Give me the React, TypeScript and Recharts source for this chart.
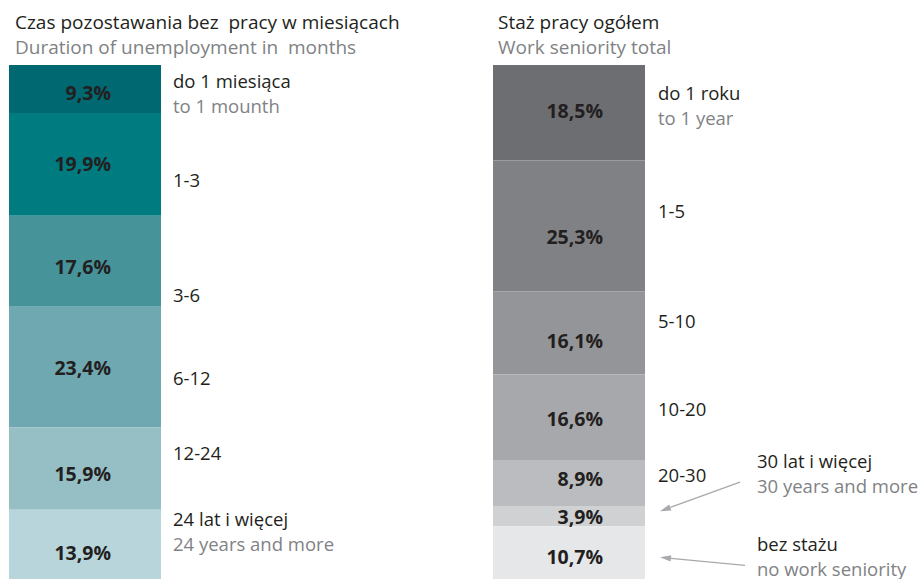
import React from 'react';
import { BarChart, Bar, XAxis, YAxis, LabelList } from 'recharts';

// ---------- data ----------
const durationLabelsPl = ['do 1 miesiąca', '1-3', '3-6', '6-12', '12-24', '24 lat i więcej'];
const durationLabelsEn = ['to 1 mounth', '', '', '', '', '24 years and more'];
const durationShares = [9.3, 19.9, 17.6, 23.4, 15.9, 13.9];

const seniorityLabelsPl = ['do 1 roku', '1-5', '5-10', '10-20', '20-30', '30 lat i więcej', 'bez stażu'];
const seniorityLabelsEn = ['to 1 year', '', '', '', '', '30 years and more', 'no work seniority'];
const seniorityShares = [18.5, 25.3, 16.1, 16.6, 8.9, 3.9, 10.7];

const durationTitlePl = 'Czas pozostawania bez  pracy w miesiącach';
const durationTitleEn = 'Duration of unemployment in  months';
const seniorityTitlePl = 'Staż pracy ogółem';
const seniorityTitleEn = 'Work seniority total';

// ---------- styles ----------
const FONT = '"Open Sans", "Noto Sans", sans-serif';
const DARK = '#231f20';
const GREY = '#808285';
const ARROW = '#a7a9ac';

const durationColors = ['#006870', '#007b80', '#46939a', '#6fa8b0', '#96bfc5', '#b7d5da'];
const seniorityColors = ['#6d6e71', '#808184', '#949598', '#a7a8ab', '#bbbcbf', '#d0d1d3', '#e6e7e8'];

const W = 921;
const H = 579;
const CHART_H = 590;
const PLOT_TOP = 65;
const PLOT_BOTTOM = 581.5;
const BAR_W = 152;

const leftStyle = {
  barLeft: 9,
  valueInset: 50,
  valueNudge: [11, 6.5, 13, 7.5, 12, 14],
  labelNudge: [-1, 22.5, 41, 17.5, -9, -20],
  labelGap: 12,
  callouts: {} as Record<number, any>,
};

const rightStyle = {
  barLeft: 493,
  valueInset: 42,
  valueNudge: [5.5, 18, 15.5, 9, 3, 7.7, 10.5],
  labelNudge: [-12.5, -8, -4.5, -1, -1.5, -48, -2.5],
  labelGap: 13,
  callouts: {
    5: { labelDx: 112, fromDx: 95, fromDy: -34, tipDx: 15, tipDy: -5 },
    6: { labelDx: 112, fromDx: 100, fromDy: 11.5, tipDx: 15, tipDy: 3.5 },
  } as Record<number, any>,
};

const fmt = (v: number) => v.toFixed(1).replace('.', ',') + '%';

function Arrow({ x1, y1, x2, y2 }: { x1: number; y1: number; x2: number; y2: number }) {
  const dx = x2 - x1;
  const dy = y2 - y1;
  const len = Math.sqrt(dx * dx + dy * dy);
  const ux = dx / len;
  const uy = dy / len;
  const hl = 11;
  const hw = 3.2;
  const bx = x2 - ux * hl;
  const by = y2 - uy * hl;
  const pts = `${x2},${y2} ${bx - uy * hw},${by + ux * hw} ${bx + uy * hw},${by - ux * hw}`;
  return (
    <g>
      <line x1={x1} y1={y1} x2={bx} y2={by} stroke={ARROW} strokeWidth={1.3} />
      <polygon points={pts} fill={ARROW} />
    </g>
  );
}

function makeSegmentLabel(i: number, labelsPl: string[], labelsEn: string[], style: any) {
  return (props: any) => {
    const vb = props.viewBox || {};
    const x = props.x ?? vb.x;
    const y = props.y ?? vb.y;
    const width = props.width ?? vb.width;
    const height = props.height ?? vb.height;
    const value = props.value;
    const right = Math.max(x, x + width);
    const cy = y + height / 2;
    const callout = style.callouts[i];
    const labelX = callout ? right + callout.labelDx : right + style.labelGap;
    const labelY = cy + style.labelNudge[i];
    return (
      <g>
        <text
          x={right - style.valueInset}
          y={cy + style.valueNudge[i]}
          textAnchor="end"
          fontFamily={FONT}
          fontWeight={700}
          fontSize={19.5}
          fill={DARK}
        >
          {fmt(Number(value))}
        </text>
        <text x={labelX} y={labelY} fontFamily={FONT} fontSize={18.5} fill={DARK}>
          {labelsPl[i]}
        </text>
        {labelsEn[i] ? (
          <text x={labelX} y={labelY + 25} fontFamily={FONT} fontSize={18.5} fill={GREY}>
            {labelsEn[i]}
          </text>
        ) : null}
        {callout ? (
          <Arrow
            x1={right + callout.fromDx}
            y1={cy + callout.fromDy}
            x2={right + callout.tipDx}
            y2={cy + callout.tipDy}
          />
        ) : null}
      </g>
    );
  };
}

function StackColumn({
  shares,
  colors,
  labelsPl,
  labelsEn,
  style,
}: {
  shares: number[];
  colors: string[];
  labelsPl: string[];
  labelsEn: string[];
  style: any;
}) {
  const row: Record<string, any> = { name: 'total' };
  shares.forEach((v, i) => {
    row['s' + i] = v;
  });
  return (
    <div style={{ position: 'absolute', left: 0, top: 0 }}>
      <BarChart
        width={W}
        height={CHART_H}
        data={[row]}
        margin={{
          top: PLOT_TOP,
          left: style.barLeft,
          right: W - style.barLeft - BAR_W,
          bottom: CHART_H - PLOT_BOTTOM,
        }}
        barCategoryGap={0}
        barGap={0}
      >
        <XAxis dataKey="name" hide />
        <YAxis hide reversed type="number" domain={[0, 100]} allowDataOverflow />
        {shares.map((_, i) => (
          <Bar key={i} dataKey={'s' + i} stackId="a" fill={colors[i]} isAnimationActive={false}>
            <LabelList dataKey={'s' + i} content={makeSegmentLabel(i, labelsPl, labelsEn, style)} />
          </Bar>
        ))}
      </BarChart>
    </div>
  );
}

export default function App() {
  return (
    <div
      style={{
        position: 'absolute',
        left: 0,
        top: 0,
        width: W,
        height: H,
        overflow: 'hidden',
        background: '#ffffff',
      }}
    >
      <svg width={W} height={H} style={{ position: 'absolute', left: 0, top: 0 }}>
        <text x={15} y={29} fontFamily={FONT} fontSize={19} fill={DARK} style={{ whiteSpace: 'pre' }}>
          {durationTitlePl}
        </text>
        <text x={15} y={54} fontFamily={FONT} fontSize={19} fill={GREY} style={{ whiteSpace: 'pre' }}>
          {durationTitleEn}
        </text>
        <text x={498} y={29} fontFamily={FONT} fontSize={19} fill={DARK}>
          {seniorityTitlePl}
        </text>
        <text x={498} y={54} fontFamily={FONT} fontSize={19} fill={GREY}>
          {seniorityTitleEn}
        </text>
      </svg>
      <StackColumn
        shares={durationShares}
        colors={durationColors}
        labelsPl={durationLabelsPl}
        labelsEn={durationLabelsEn}
        style={leftStyle}
      />
      <StackColumn
        shares={seniorityShares}
        colors={seniorityColors}
        labelsPl={seniorityLabelsPl}
        labelsEn={seniorityLabelsEn}
        style={rightStyle}
      />
    </div>
  );
}
